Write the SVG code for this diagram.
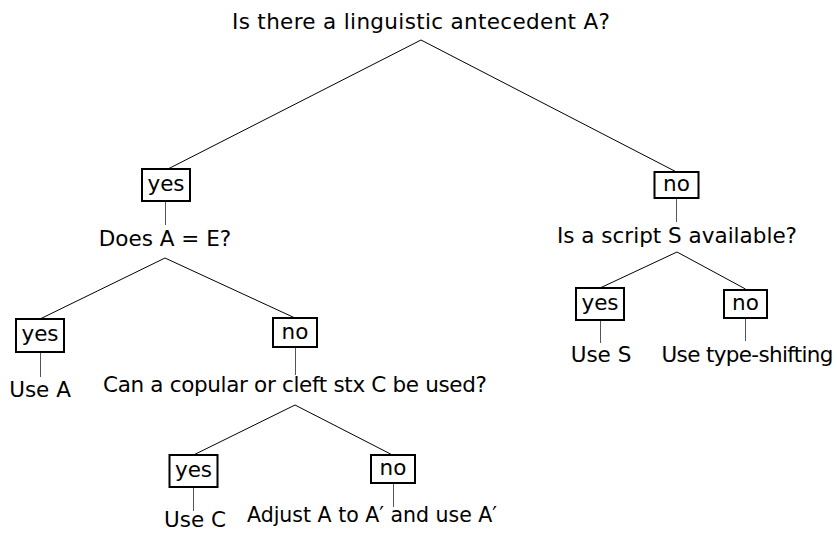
<svg xmlns="http://www.w3.org/2000/svg" width="837" height="534" viewBox="0 0 837 534">
<style>
text{font-family:"DejaVu Sans","Liberation Sans",sans-serif;font-size:21.5px;fill:#000;text-anchor:middle}
.box{fill:#fff;stroke:#000;stroke-width:2}
.e{stroke:#000;stroke-width:1;fill:none}
.s{stroke:#555;stroke-width:1;fill:none}
</style>
<rect width="837" height="534" fill="#fff"/>
<g id="connectors">
<path class="e" d="M421,40 L166,170 M421,40 L676.5,172 M165,258 L40,319 M165,258 L295,318 M295,405 L193.5,455 M295,405 L392.5,455 M677,252 L600,288 M677,252 L745.5,289"/>
<path class="s" d="M165.5,201 L165.5,225 M676.5,198 L676.5,222 M40.5,352 L40.5,377 M295.5,347 L295.5,375 M193.5,487 L193.5,511 M393.5,483 L393.5,507 M600.5,320 L600.5,343 M745.5,318 L745.5,341"/>
</g>
<g id="q1"><text x="421" y="29" textLength="378">Is there a linguistic antecedent A?</text></g>
<g id="yes1"><rect class="box" x="142" y="169" width="48" height="32"/><text x="166" y="191">yes</text></g>
<g id="q2"><text x="165" y="246">Does A = E?</text></g>
<g id="no1"><rect class="box" x="654.5" y="172" width="44" height="26"/><text x="676.5" y="191">no</text></g>
<g id="q3"><text x="677" y="243">Is a script S available?</text></g>
<g id="yes2"><rect class="box" x="16" y="319" width="48" height="33"/><text x="40" y="341">yes</text></g>
<g id="a1"><text x="40" y="397">Use A</text></g>
<g id="no2"><rect class="box" x="273" y="318" width="44" height="29"/><text x="295" y="339">no</text></g>
<g id="q4"><text x="295" y="392" textLength="384">Can a copular or cleft stx C be used?</text></g>
<g id="yes3"><rect class="box" x="169.5" y="455" width="48" height="32"/><text x="193.5" y="477">yes</text></g>
<g id="a2"><text x="195" y="527">Use C</text></g>
<g id="no3"><rect class="box" x="371" y="455" width="44" height="28"/><text x="393" y="475">no</text></g>
<g id="a3"><text x="372" y="522" style="font-size:20.5px">Adjust A to A′ and use A′</text></g>
<g id="yes4"><rect class="box" x="576" y="288" width="48" height="32"/><text x="600" y="310">yes</text></g>
<g id="a4"><text x="601" y="362">Use S</text></g>
<g id="no4"><rect class="box" x="724" y="290" width="43" height="28"/><text x="745.5" y="310">no</text></g>
<g id="a5"><text x="747.5" y="362" textLength="172">Use type-shifting</text></g>
</svg>
